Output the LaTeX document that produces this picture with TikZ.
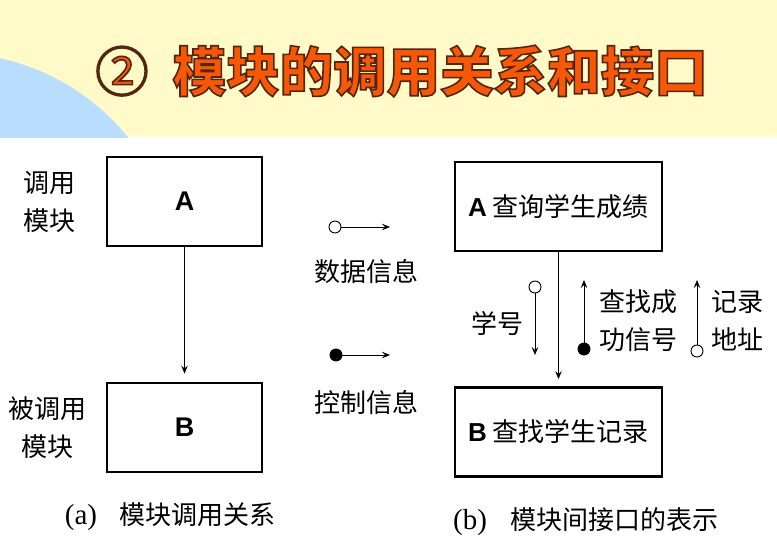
\documentclass[tikz,border=0pt]{standalone}
\usepackage{fontspec}
\setmainfont{Liberation Serif}
\newfontfamily\cjk{Noto Sans CJK SC}
\newfontfamily\arialfont{Liberation Sans}
\usepackage{tikz}
\usetikzlibrary{positioning, arrows.meta}

\definecolor{bandyellow}{RGB}{255,250,200}
\definecolor{bandblue}{RGB}{185,221,255}
\definecolor{titleorange}{RGB}{246,88,8}

% orange text with a dark outline (fill, then stroke)
\newcommand{\outlinetext}[1]{{\color{titleorange}\special{pdf:code q 2 Tr 1.6 w 0.33 0.15 0.06 RG}#1\special{pdf:code Q}}}

\begin{document}
\begin{tikzpicture}[
        x=1pt, y=-1pt,
        node distance=20pt and 20pt,
        box/.style={draw, line width=2.8pt, minimum width=#1, minimum height=89pt, inner sep=0pt, font=\cjk\fontsize{26}{34}\selectfont},
        box/.default=155pt,
        arr/.style={-{Stealth[length=8pt, width=6.5pt, inset=3pt]}, line width=0.9pt},
        lbl/.style={font=\cjk\fontsize{26}{38}\selectfont, align=center, inner sep=0pt},
        dot/.style={circle, draw, line width=0.9pt, minimum size=12pt, inner sep=0pt, fill=#1},
        dot/.default=white,
        ttl/.style={font=\cjk\bfseries\fontsize{53.5}{60}\selectfont, inner sep=0pt},
    ]
    \useasboundingbox (0,0) rectangle (777,549);
    \fill[white] (0,0) rectangle (777,549);

    % ---- TITLE BAND ----
    \fill[bandyellow] (0,0) rectangle (777,137);
    \begin{scope}
    \clip (0,0) rectangle (777,137);
    \fill[bandblue] (-49,281) circle (228pt);
    \end{scope}
    \node[ttl, anchor=west] (title) at (95,71) {\outlinetext{{\mdseries ②}\hspace{24pt}模块的调用关系和接口}};

    % ---- (a) CALL RELATION ----
    \node[box] (a-box) at (184.5,201.5) {\arialfont\bfseries\fontsize{27}{30}\selectfont A};
    \node[box] (b-box) at (184.5,427.5) {\arialfont\bfseries\fontsize{27}{30}\selectfont B};
    \node[lbl, left=30pt of a-box] (a-role) {调用\\模块};
    \node[lbl, left=19pt of b-box] (b-role) {被调用\\模块};
    \draw[arr, shorten >=8pt] (a-box) -- (b-box);
    \node[lbl] (cap-a) at (170,517) {{\fontsize{29}{30}\selectfont\rmfamily (a)}\hspace{22pt}模块调用关系};

    % ---- LEGEND ----
    \node[dot] (data-dot) at (335,227) {};
    \coordinate (data-end) at (390,227);
    \draw[arr] (data-dot) -- (data-end);
    \node[lbl] (data-lbl) at (366,272) {数据信息};
    \node[dot=black] (ctrl-dot) at (336,355) {};
    \coordinate (ctrl-end) at (390,355);
    \draw[arr] (ctrl-dot) -- (ctrl-end);
    \node[lbl] (ctrl-lbl) at (366,403) {控制信息};

    % ---- (b) INTERFACE ----
    \node[box=207pt] (query-box) at (558.5,206.5) {{\arialfont\bfseries\fontsize{26}{30}\selectfont A}\hspace{6pt}查询学生成绩};
    \node[box=207pt] (find-box) at (558.5,432) {{\arialfont\bfseries\fontsize{26}{30}\selectfont B}\hspace{6pt}查找学生记录};
    \draw[arr, shorten >=7pt] (query-box) -- (find-box);

    \node[dot] (sno-dot) at (535,287) {};
    \coordinate (sno-end) at (535,355);
    \draw[arr] (sno-dot) -- (sno-end);
    \node[lbl] (sno-lbl) at (497,323) {学号};

    \node[dot=black] (ok-dot) at (584,349) {};
    \coordinate (ok-end) at (584,280);
    \draw[arr] (ok-dot) -- (ok-end);
    \node[lbl] (ok-lbl) at (638,321) {查找成\\功信号};

    \node[dot] (addr-dot) at (697,351) {};
    \coordinate (addr-end) at (697,280);
    \draw[arr] (addr-dot) -- (addr-end);
    \node[lbl] (addr-lbl) at (737,321) {记录\\地址};

    \node[lbl] (cap-b) at (586,522) {{\fontsize{29}{30}\selectfont\rmfamily (b)}\hspace{24pt}模块间接口的表示};

    \end{tikzpicture}
\end{document}
